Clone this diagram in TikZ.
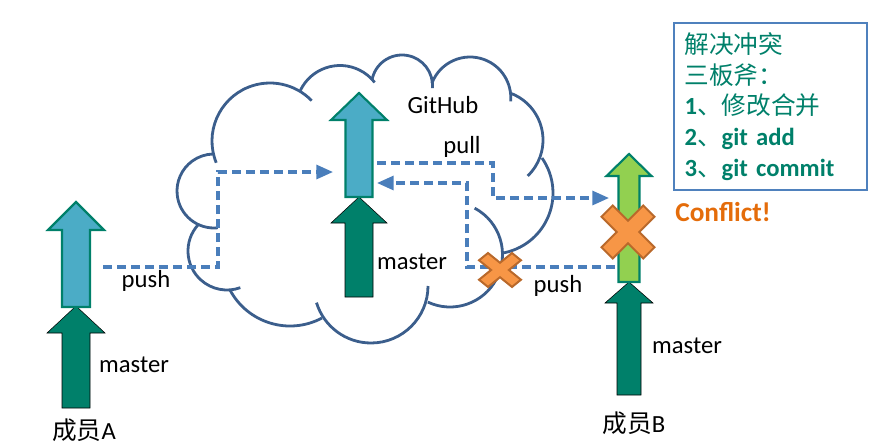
\documentclass[tikz,border=0pt]{standalone}
\usepackage{fontspec}
\setmainfont{Carlito}
\newfontfamily\cjk{Noto Sans CJK SC}
\usetikzlibrary{arrows.meta}
\definecolor{branch}{HTML}{00806A}
\definecolor{commitblue}{HTML}{4BACC6}
\definecolor{commitgreen}{HTML}{92D050}
\definecolor{linkblue}{HTML}{4A7EBB}
\definecolor{cloudline}{HTML}{3B5E8C}
\definecolor{clashfill}{HTML}{F79646}
\definecolor{clashline}{HTML}{B9692B}
\definecolor{warn}{HTML}{E46C0A}
\definecolor{boxline}{HTML}{4F81BD}
% style, name, x, tail y, head base y, tip y, half shaft, half head
\newcommand{\commit}[8][]{%
  \draw[#1] (#3-#7,#4) -- (#3-#7,#5) -- (#3-#8,#5) -- (#3,#6) -- (#3+#8,#5)
    -- (#3+#7,#5) -- (#3+#7,#4) -- cycle;
  \coordinate (#2) at (#3,#6);}
\begin{document}
\begin{tikzpicture}[
  x=0.75pt, y=-0.75pt, font=\fontsize{18.5}{22}\selectfont,
  >={Triangle[length=12.5pt,width=10.5pt]},
  link/.style={->, linkblue, line width=2.3pt, dash pattern=on 6.5pt off 4pt},
  puff/.style={draw=cloudline, line width=2.1pt},
  tipblue/.style={fill=commitblue, draw=branch, line width=1.6pt},
  tipgreen/.style={fill=commitgreen, draw=branch, line width=1.6pt},
  base/.style={fill=branch},
  txt/.style={inner sep=0},
  clashmark/.style={fill=clashfill, draw=clashline, line width=1.5pt},
  clash/.pic={\draw[clashmark, rotate=45] (8,8) -- (8,29.5) -- (-8,29.5)
    -- (-8,8) -- (-29.5,8) -- (-29.5,-8) -- (-8,-8) -- (-8,-29.5)
    -- (8,-29.5) -- (8,-8) -- (29.5,-8) -- (29.5,8) -- cycle;},
  axes/.style={draw=boxline, line width=1.1pt, text width=129pt,
    minimum height=125pt, inner xsep=8pt, align=left, text=branch,
    font=\fontsize{18.5}{23}\selectfont\bfseries}
]
\useasboundingbox (0,0) rectangle (896,446);

% GitHub cloud: centre x/y, radius, from, to
\foreach \cx/\cy/\r/\from/\to in {214/191/37/84/268, 270/141/58/158/316,
    340/109.5/44/206/322, 402/85.5/30.5/190/365, 470/97.8/40.8/201/365,
    493/140/50/290/406, 492/193/61/-35/80, 450/254.5/52.5/-62/115,
    371/286/57/0/163, 290/258/68/62/152, 227/251/39/222/70}
  \draw[puff] (\cx,\cy) ++(\from:\r) arc[start angle=\from, end angle=\to, radius=\r];

\commit[base]{aBase}{76}{408}{333}{306}{14}{29}
\commit[tipblue]{aTip}{76}{307}{230}{202}{14}{28}
\commit[base]{ghBase}{359}{297}{223}{197}{14}{28}
\commit[tipblue]{ghTip}{359}{197}{120}{93}{13.5}{28}
\commit[base]{bBase}{629}{395}{303}{282}{12}{24}
\commit[tipgreen]{bTip}{629}{282}{176}{154}{10.5}{22.5}

\coordinate (aOut) at (103,267);
\coordinate (aTurn) at (218,220);
\coordinate (ghInA) at (333,172);
\coordinate (ghOut) at (377,163);
\coordinate (pullTurn) at (493,180);
\coordinate (bIn) at (609,198);
\coordinate (bOut) at (615,267);
\coordinate (pushTurn) at (467,225);
\coordinate (ghInB) at (377,183);

\draw[link] (aOut) -| (aTurn) |- (ghInA);
\draw[link] (ghOut) -| (pullTurn) |- (bIn);
\draw[link] (bOut) -| (pushTurn) |- (ghInB);

\pic[scale=0.79, yscale=0.81] at (500,270) {clash};
\pic at (628,232) {clash};

\node[txt] (hubName) at (443,105) {GitHub};
\node[txt] (pullText) at (462,147) {pull};
\node[txt] (ghMaster) at (412,262) {master};
\node[txt] (pushA) at (146,281) {push};
\node[txt] (aMaster) at (134,365) {master};
\node[txt] (memberA) at (84,430) {{\cjk 成员}A};
\node[txt] (pushB) at (558,286) {push};
\node[txt] (bMaster) at (687,346) {master};
\node[txt] (memberB) at (634,423) {{\cjk 成员}B};
\node[txt, text=warn, font=\fontsize{20.5}{22}\selectfont\bfseries] (conflict)
  at (723,212) {Conflict!};
\node[axes] (threeAxes) at (770.5,106.5) {{\cjk\mdseries 解决冲突}\\
  {\cjk\mdseries 三板斧：}\\1{\cjk\mdseries 、修改合并}\\
  2{\cjk\mdseries 、}git add\\3{\cjk\mdseries 、}git commit};
\end{tikzpicture}
\end{document}
